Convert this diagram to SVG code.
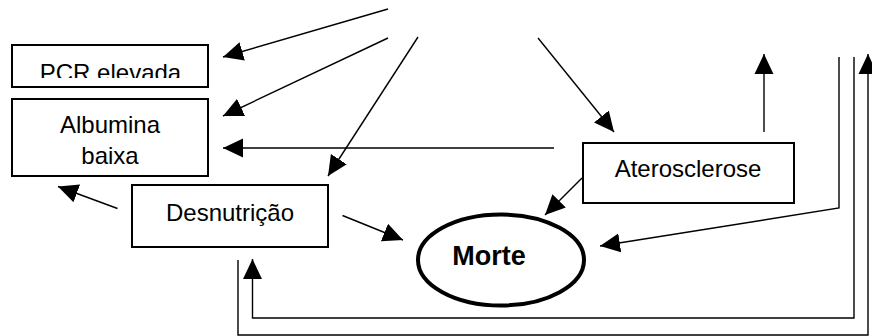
<svg xmlns="http://www.w3.org/2000/svg" width="872" height="336" viewBox="0 0 872 336">
  <style>
    .box { fill: #fff; stroke: #000; stroke-width: 2; }
    .label { font-family: "Liberation Sans", Arial, sans-serif; font-size: 24px; fill: #000; text-anchor: middle; }
    .bold { font-weight: bold; font-size: 27px; }
    .link { fill: none; stroke: #000; stroke-width: 1.4; marker-end: url(#head); }
    .wire { fill: none; stroke: #000; stroke-width: 1.4; }
  </style>
  <defs>
    <marker id="head" markerUnits="userSpaceOnUse" markerWidth="20" markerHeight="20" viewBox="0 0 19 18" refX="19" refY="9" orient="auto">
      <path d="M0,0 L19,9 L0,18 Z" fill="#000"/>
    </marker>
    <clipPath id="pcrClip">
      <rect x="12" y="45" width="196" height="33"/>
    </clipPath>
  </defs>
  <rect width="872" height="336" fill="#fff"/>

  <g id="pcr">
    <rect class="box" x="12" y="45" width="196" height="42"/>
    <text class="label" x="110.5" y="80.5" clip-path="url(#pcrClip)">PCR elevada</text>
  </g>

  <g id="albumina">
    <rect class="box" x="12" y="99" width="196" height="77"/>
    <text class="label" x="110" y="133">Albumina</text>
    <text class="label" x="110" y="163.5">baixa</text>
  </g>

  <g id="desnutricao">
    <rect class="box" x="132" y="185" width="196" height="62"/>
    <text class="label" x="230" y="220.5">Desnutrição</text>
  </g>

  <g id="aterosclerose">
    <rect class="box" x="583" y="143" width="211" height="60"/>
    <text class="label" x="688" y="176.7">Aterosclerose</text>
  </g>

  <g id="morte">
    <ellipse cx="501" cy="260" rx="83" ry="45.5" fill="#fff" stroke="#000" stroke-width="4"/>
    <text class="label bold" x="489" y="265">Morte</text>
  </g>

  <g id="connectors">
    <line class="link" x1="388" y1="9" x2="223" y2="57"/>
    <line class="link" x1="388" y1="38" x2="223" y2="116"/>
    <line class="link" x1="418" y1="37" x2="328" y2="176"/>
    <line class="link" x1="538" y1="38" x2="614" y2="132"/>
    <line class="link" x1="764" y1="132" x2="764" y2="54"/>
    <line class="link" x1="554" y1="148" x2="223" y2="148"/>
    <line class="link" x1="117.5" y1="208.5" x2="58" y2="186.5"/>
    <line class="link" x1="342.5" y1="215.5" x2="403" y2="240"/>
    <line class="link" x1="582" y1="178" x2="545" y2="215"/>
    <polyline class="link" points="839,57 839,208 600,246"/>
    <polyline class="link" points="854,57 854,318 252.5,318 252.5,259"/>
    <polyline class="link" points="238,260 238,335 868,335 868,54"/>
  </g>
</svg>
